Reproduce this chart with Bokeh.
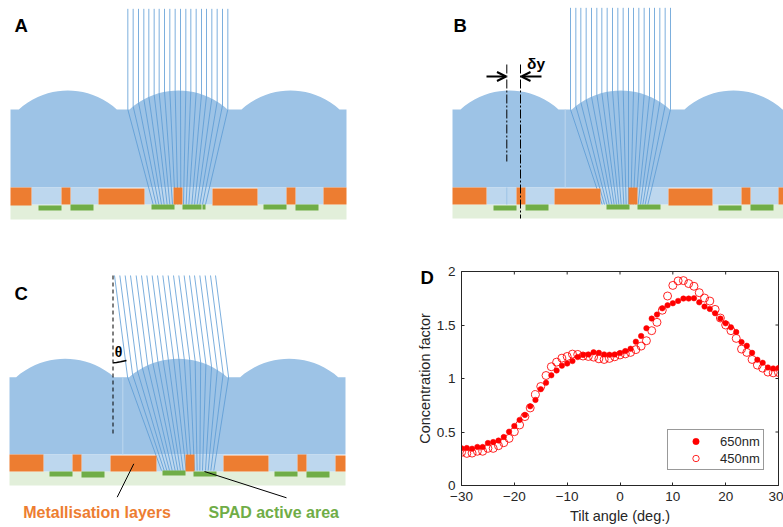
from bokeh.plotting import figure
from bokeh.layouts import column, row
from bokeh.models import Range1d, FixedTicker, Legend, LegendItem, Arrow, OpenHead
from bokeh.core.properties import value
from bokeh.embed import file_html
from bokeh.resources import INLINE
import numpy as np

# ---------- chart D data ----------
tilt = list(range(-30, 31))
cf_650 = [.347,.35,.344,.36,.36,.397,.406,.42,.453,.503,.556,.613,.66,.74,.80,.90,.96,1.03,1.075,1.12,
          1.14,1.163,1.20,1.22,1.225,1.245,1.24,1.225,1.222,1.225,1.238,1.256,1.278,1.344,1.397,1.47,1.56,
          1.597,1.656,1.684,1.703,1.725,1.747,1.747,1.75,1.712,1.672,1.65,1.61,1.56,1.516,1.478,1.434,1.34,
          1.306,1.24,1.175,1.147,1.103,1.094,1.097]
cf_450 = [.31,.30,.303,.32,.32,.347,.347,.372,.40,.44,.503,.566,.644,.725,.85,.925,1.028,1.11,1.153,1.19,
          1.206,1.228,1.225,1.21,1.206,1.2,1.184,1.178,1.188,1.203,1.22,1.23,1.244,1.27,1.303,1.353,1.447,
          1.525,1.638,1.771,1.87,1.912,1.915,1.887,1.862,1.802,1.752,1.724,1.646,1.565,1.5,1.447,1.375,1.275,
          1.244,1.178,1.125,1.097,1.06,1.053,1.056]
x_ticks = [-30, -20, -10, 0, 10, 20, 30]
y_ticks = [0, 0.5, 1, 1.5, 2]
y_tick_labels = {0: "0", 0.5: "0.5", 1: "1", 1.5: "1.5", 2: "2"}

# ---------- schematic data (image pixels x3) ----------
lens_dx = [-49,-45,-40,-35,-30,-25,-20,-15,-10,-5,0,5,10,15,20,25,30,35,40,45,49]
lens_h  = [0,3.4,7,10,12.5,14.6,16.2,17.4,18.3,18.8,19,18.8,18.3,17.4,16.2,14.6,12.5,10,7,3.4,0]

A = dict(x0=0, y0=0, left=30, right=1038, body_top=327, body_bot=561, lens_c=[202, 534, 870], lens_scale=1.0,
         orange=[(30,93,561,615),(183,210,561,612),(294,432,564,612),(519,546,561,612),(636,771,564,615),(858,885,561,612),(969,1038,561,612)],
         pale=[(93,183,561,612),(210,294,561,612),(432,519,561,612),(546,636,561,612),(771,858,561,612),(885,969,561,612)],
         sub=(612,657),
         green=[(114,183,615,630),(210,279,612,630),(453,522,612,627),(546,603,612,627),(606,615,612,627),(789,858,612,627),(885,954,612,630)],
         ray_top_y=25, ray_slope=0.0, ray_bot_y=612,
         ray_top=[382,398,414,430,445,461,476,492,508,524,540,556,571,587,603,618,634,650,666,682],
         ray_bot=[458,467,475,483,491,500,508,516,524,532,541,549,557,565,574,582,590,598,606,615])
B = dict(x0=440, y0=0, left=36, right=1029, body_top=327, body_bot=561, lens_c=[207, 541, 879], lens_scale=1.0,
         orange=[(36,138,561,612),(228,255,561,612),(342,480,564,612),(564,591,561,612),(684,816,564,615),(903,930,561,612),(1014,1029,561,612)],
         pale=[(138,228,561,612),(255,342,561,612),(480,564,561,612),(591,684,561,612),(816,903,561,612),(930,1014,561,612)],
         sub=(612,654),
         green=[(159,228,615,630),(255,324,612,630),(498,567,612,627),(591,660,612,627),(834,903,615,630),(930,999,612,630)],
         ray_top_y=22, ray_slope=0.0, ray_bot_y=612,
         ray_top=[390,406,421,437,453,469,484,500,516,532,548,564,579,595,611,627,642,658,674,690],
         ray_bot=[485,492,499,506,514,521,528,535,542,550,557,564,571,578,586,593,600,607,614,622])
C = dict(x0=0, y0=280, left=27, right=1035, body_top=290, body_bot=522, lens_c=[194, 533, 866], lens_scale=0.97,
         orange=[(27,129,522,573),(216,243,522,573),(330,468,525,573),(555,582,522,573),(669,804,525,573),(891,918,522,573),(1005,1035,525,573)],
         pale=[(129,216,522,573),(243,330,522,573),(468,555,522,573),(582,669,522,573),(804,891,522,573),(918,1005,522,573)],
         sub=(573,615),
         green=[(147,216,573,588),(243,312,573,591),(486,555,570,585),(579,648,573,588),(822,891,573,588),(918,987,573,591)],
         ray_top_y=-15, ray_slope=0.1287, ray_bot_y=570,
         ray_top=[342,358,374,390,407,423,439,455,471,487,503,519,535,551,567,582,598,614,630,645],
         ray_bot=[483,491,499,507,515,524,532,540,548,557,565,573,582,590,598,606,615,623,631,640])

BLUE, PALE, ORANGE, SUB, GREEN, RAY = "#9dc3e6", "#bdd7ee", "#ed7d31", "#e2efda", "#70ad47", "#5b9bd5"
FONT = value("Liberation Sans")


def surface(panel, x):
    px = [c + d * 3 for c in panel["lens_c"] for d in lens_dx]
    py = [panel["body_top"] - h * 3 * panel["lens_scale"] for _ in panel["lens_c"] for h in lens_h]
    return float(np.interp(x, px, py))


def draw_panel(p, d):
    X = lambda v: d["x0"] + v / 3
    Y = lambda v: d["y0"] + v / 3
    p.quad(left=[X(d["left"])], right=[X(d["right"])], top=[Y(d["sub"][0])], bottom=[Y(d["sub"][1])], color=SUB, line_color=None)
    xs, ys = [X(d["left"]), X(d["left"])], [Y(d["body_bot"]), Y(d["body_top"])]
    for c in d["lens_c"]:
        for dx, h in zip(lens_dx, lens_h):
            xs.append(X(c + dx * 3))
            ys.append(Y(d["body_top"] - h * 3 * d["lens_scale"]))
    xs += [X(d["right"]), X(d["right"])]
    ys += [Y(d["body_top"]), Y(d["body_bot"])]
    p.patch(xs, ys, color=BLUE, line_color=None)
    p.quad(left=[X(r[0]) for r in d["pale"]], right=[X(r[1]) for r in d["pale"]],
           top=[Y(r[2]) for r in d["pale"]], bottom=[Y(r[3]) for r in d["pale"]], color=PALE, line_color=None)
    rx, ry = [], []
    for t, b in zip(d["ray_top"], d["ray_bot"]):
        y = d["ray_top_y"]
        x = t
        while y < surface(d, x):
            y += 0.5
            x = t + (y - d["ray_top_y"]) * d["ray_slope"]
        rx.append([X(t), X(x), X(b)])
        ry.append([Y(d["ray_top_y"]), Y(y), Y(d["ray_bot_y"])])
    p.multi_line(rx, ry, line_color=RAY, line_width=1, line_alpha=0.8)
    for rects, col in ((d["orange"], ORANGE), (d["green"], GREEN)):
        p.quad(left=[X(r[0]) for r in rects], right=[X(r[1]) for r in rects],
               top=[Y(r[2]) for r in rects], bottom=[Y(r[3]) for r in rects], color=col, line_color=None)


def base_fig(w, h, xr, yr):
    p = figure(width=w, height=h, x_range=Range1d(*xr), y_range=Range1d(*yr), output_backend="svg",
               toolbar_location=None, x_axis_location=None, y_axis_location=None,
               min_border=0, outline_line_color=None, tools="")
    p.grid.visible = False
    return p


def letter(p, x, y, t):
    p.text([x], [y], text=[t], text_font=FONT, text_font_style="bold", text_font_size="18.5px",
           text_baseline="middle", text_align="left", text_color="black")


# ---------- top row: A, B ----------
top = base_fig(783, 262, (0, 783), (262, 0))
draw_panel(top, A)
draw_panel(top, B)
letter(top, 14, 25, "A")
letter(top, 453, 25, "B")
top.line([564.7, 564.7], [109, 187], line_color=PALE, line_width=1)
top.line([506.3, 506.3], [187, 204], line_color="#9dc3e6", line_width=1)
top.line([506.3, 506.3], [64, 161], line_color="black", line_width=1, line_dash="9 2 2 2")
top.line([520, 520], [64, 218], line_color="black", line_width=1, line_dash="9 2 2 2")
top.add_layout(Arrow(end=OpenHead(size=9, line_width=2, line_color="black"), x_start=486, y_start=76, x_end=505.5, y_end=76, line_width=2, line_color="black"))
top.add_layout(Arrow(end=OpenHead(size=9, line_width=2, line_color="black"), x_start=541, y_start=76, x_end=521, y_end=76, line_width=2, line_color="black"))
top.text([526.5], [63], text=["δy"], text_font=FONT, text_font_style="bold", text_font_size="15.5px", text_baseline="middle", text_color="black")

# ---------- bottom left: C (also carries the letter D, which sits beside chart D's axis) ----------
pc = base_fig(434, 265, (0, 434), (527, 262))
draw_panel(pc, C)
letter(pc, 14, 293, "C")
letter(pc, 420, 277, "D")
pc.line([122.3, 122.3], [376.7, 454], line_color=PALE, line_width=1)
pc.line([112.5, 112.5], [275, 435], line_color="black", line_width=1, line_dash="4 3")
pc.line([112.7, 116, 120, 126], [362.3, 362, 361.3, 360], line_color="black", line_width=1.5)
pc.text([118], [351], text=["θ"], text_font=FONT, text_font_style="bold", text_font_size="14px", text_align="center", text_baseline="middle", text_color="black")
pc.line([133.3, 116.7], [463.3, 496.7], line_color="black", line_width=1)
pc.line([204, 286], [471, 497.3], line_color="black", line_width=1)
pc.text([22.7], [512.3], text=["Metallisation layers"], text_font=FONT, text_font_style="bold", text_font_size="16px", text_baseline="middle", text_color=ORANGE)
pc.text([208], [511.7], text=["SPAD active area"], text_font=FONT, text_font_style="bold", text_font_size="16px", text_baseline="middle", text_color=GREEN)

# ---------- bottom right: D ----------
INK = "#262626"
pd = figure(width=375, height=265, x_range=Range1d(-30, 30), y_range=Range1d(0, 2), output_backend="svg",
            toolbar_location=None, tools="", min_border_left=53, min_border_right=5, min_border_top=9, min_border_bottom=42,
            outline_line_color=INK, x_axis_label="Tilt angle (deg.)", y_axis_label="Concentration factor",
            border_fill_color=None, background_fill_color=None)
pd.grid.visible = False
for ax, ticks in ((pd.xaxis[0], x_ticks), (pd.yaxis[0], y_ticks)):
    ax.ticker = FixedTicker(ticks=ticks)
    ax.major_tick_in = 3
    ax.major_tick_out = 0
    ax.minor_tick_in = 0
    ax.minor_tick_out = 0
    ax.axis_line_color = INK
    ax.major_tick_line_color = INK
    ax.major_label_text_color = INK
    ax.major_label_text_font = "Liberation Sans"
    ax.major_label_text_font_size = "13.5px"
    ax.axis_label_text_font = "Liberation Sans"
    ax.axis_label_text_font_size = "14.5px"
    ax.axis_label_text_font_style = "normal"
    ax.axis_label_text_color = INK
pd.yaxis[0].major_label_overrides = y_tick_labels
pd.xaxis[0].major_label_standoff = 6
pd.yaxis[0].major_label_standoff = 6
pd.xaxis[0].axis_label_standoff = 4
pd.yaxis[0].axis_label_standoff = 1
# inward ticks on the top and right sides of the box
pd.segment(x_ticks, [2] * len(x_ticks), x_ticks, [1.972] * len(x_ticks), line_color=INK, line_width=1)
pd.segment([30] * len(y_ticks), y_ticks, [29.43] * len(y_ticks), y_ticks, line_color=INK, line_width=1)
r650 = pd.scatter(tilt, cf_650, size=5.5, marker="circle", fill_color="#ff0000", line_color="#ff0000", line_width=0.5)
r450 = pd.scatter(tilt, cf_450, size=8, marker="circle", fill_color=None, line_color="#ff0000", line_width=1, line_alpha=0.85)
leg = Legend(items=[LegendItem(label="650nm", renderers=[r650]), LegendItem(label="450nm", renderers=[r450])],
             location=(206, 15), padding=3, glyph_width=49, glyph_height=16, spacing=1, label_standoff=0, margin=0,
             label_height=16, label_text_font="Liberation Sans", label_text_font_size="13px", label_text_color=INK,
             border_line_color="#333333", border_line_width=1, background_fill_color="white", background_fill_alpha=1)
pd.add_layout(leg, "center")

# the wrapper column is pulled left so that chart D's margin overlaps the end of C's canvas (where "D" is)
wrap = column(pd, width=375, margin=(0, 0, 0, -26))
layout = column(top, row(pc, wrap))
open("out.html", "w").write(file_html(layout, INLINE))
